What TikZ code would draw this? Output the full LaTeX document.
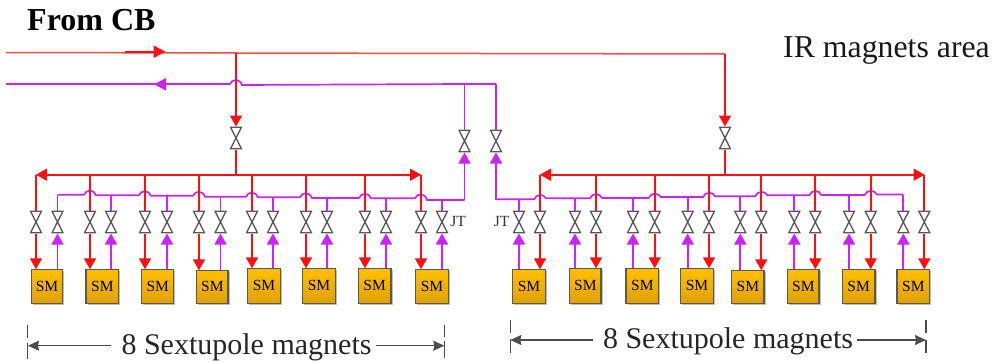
\documentclass[tikz,border=0pt]{standalone}
\usepackage{fontspec}
\setmainfont{Liberation Serif}
\usetikzlibrary{arrows.meta,shadows}
\definecolor{rd}{HTML}{FF0F0F}
\definecolor{trunkrd}{HTML}{FF4A4A}
\definecolor{pu}{HTML}{CC22FF}
\definecolor{gy}{HTML}{595959}
\definecolor{dimc}{HTML}{4D4D4D}
\definecolor{FFC000col}{HTML}{FFC000}
\definecolor{E0A000col}{HTML}{E0A000}
\tikzset{
  redline/.style={draw=rd,line width=1.7pt},
  purpline/.style={draw=pu,line width=1.7pt},
  redarrow/.style={redline,-{Stealth[length=11pt,width=12pt,inset=0pt]}},
  purparrow/.style={purpline,-{Stealth[length=11pt,width=12pt,inset=0pt]}},
  valve/.style={minimum width=12.5pt,minimum height=23pt,inner sep=0pt,outer sep=0pt,
    path picture={\draw[gy,line width=1.35pt,line join=miter]
      ([shift={(.8pt,.8pt)}]path picture bounding box.south west) --
      ([shift={(-.8pt,.8pt)}]path picture bounding box.south east) --
      ([shift={(.8pt,-.8pt)}]path picture bounding box.north west) --
      ([shift={(-.8pt,-.8pt)}]path picture bounding box.north east) -- cycle;}},
  smbox/.style={draw=gy,line width=1.3pt,top color=FFC000col,bottom color=E0A000col,
    inner sep=0pt,outer sep=0pt,font=\fontsize{15.5}{16}\selectfont,
    drop shadow={shadow xshift=1.5pt,shadow yshift=-1.5pt,opacity=.25,fill=black}},
  dimarrow/.style={draw=dimc,line width=1.1pt,-{Stealth[length=11pt,width=10pt,inset=1pt]}},
  tick/.style={draw=dimc,line width=1.1pt},
  biglabel/.style={inner sep=0pt,anchor=base,font=\fontsize{30}{32}\selectfont,text=black!85},
  jtlabel/.style={inner sep=0pt,font=\fontsize{15.5}{16}\selectfont,text=black!80}
}
\newcommand\hop[3]{-- (#1-6,#2) .. controls (#1-4,#2-5.5) and (#1+4,#2-5.5) .. (#1+6,#3)}
\begin{document}
\begin{tikzpicture}[x=1pt,y=-1pt]
\useasboundingbox (0,0) rectangle (992,361);
% labels
\node[inner sep=0pt,anchor=base west,font=\bfseries\fontsize{32}{33}\selectfont] (from) at (27,31) {From CB};
\node[inner sep=0pt,anchor=base west,font=\fontsize{31.8}{33}\selectfont,text=black!90] (ir) at (783,57) {IR magnets area};
% free ends
\coordinate (rs) at (6,52.5);
\coordinate (rj) at (236,53);
\coordinate (re) at (725,54);
\coordinate (ps) at (6,84);
\coordinate (pe) at (496,84);
\coordinate (pb) at (464.5,84);
\coordinate (hl) at (36,174.7);
\coordinate (hlj) at (236,174.7);
\coordinate (hlr) at (421,174.7);
\coordinate (hrl) at (540,174.7);
\coordinate (hrj) at (725,174.7);
\coordinate (hrr) at (924.5,174.7);
% main valves
\node[valve] (vl) at (236,138) {};
\node[valve] (vr) at (725,138) {};
\node[valve] (vpl) at (464.5,141) {};
\node[valve] (vpr) at (496,141) {};
% trunks
\draw[draw=trunkrd,line width=1.5pt] (rs) -- (rj) -- (re);
\draw[draw=rd,line width=2pt,-{Stealth[length=12pt,width=12pt,inset=0pt]}] (125,51.7) -- (165.5,51.7);
\draw[purpline] (ps) -- (230,84) \hop{236}{84}{85} -- (pb) -- (pe);
\draw[draw=pu,line width=2pt,-{Stealth[length=12pt,width=12pt,inset=0pt]}] (205,84.3) -- (154,84.3);
\draw[redarrow] (rj) -- (vl.north);
\draw[redarrow] (re) -- (vr.north);
\draw[redline] (vl.south) -- (hlj);
\draw[redline] (vr.south) -- (hrj);
\fill[rd] (hlj) circle (1.7pt);
\fill[rd] (hrj) circle (1.7pt);
\draw[redarrow] (hlj) -- (hl);
\draw[redarrow] (hlj) -- (hlr);
\draw[redarrow] (hrj) -- (hrl);
\draw[redarrow] (hrj) -- (hrr);
% purple collectors
\coordinate (cla) at (57.5,194.7);
\coordinate (clb) at (464.5,200);
\coordinate (cra) at (495,199.3);
\coordinate (crb) at (903.3,194.5);
\draw[purpline] (cla) \hop{90}{194.7}{195.3} \hop{145}{195.3}{195.8} \hop{199}{195.8}{196.7}
  \hop{252}{196.7}{197.3} \hop{306}{197.3}{198} \hop{365}{198}{198.3} \hop{421}{198.3}{200} -- (clb);
\draw[purpline] (cra) \hop{540}{199.3}{198.3} \hop{596}{198.3}{198} \hop{654.7}{198}{197}
  \hop{709}{197}{196.2} \hop{761.3}{196.2}{195.2} \hop{815.3}{195.2}{195} \hop{870.7}{195}{194.5} -- (crb);
\draw[purparrow] (clb) -- (vpl.south);
\draw[purpline] (pb) -- (vpl.north);
\draw[purpline] (pe) -- (vpr.north);
\draw[purparrow] (cra) -| (vpr.south);
% sextupole magnets with their valves
\foreach \n/\bl/\br/\bt/\xr/\xp/\yp in {
  1/31.3/62.7/269.3/36/57.5/194.7,
  2/86/118.7/269.3/90/111/195.3,
  3/141.7/173.7/269.3/145/167/195.8,
  4/196.7/228/270.3/199/220.5/196.7,
  5/247.7/280.3/268.3/252/273/197.3,
  6/302.3/335.7/268.3/306/327/198,
  7/358.3/391/268.3/365/386/198.3,
  8/415.7/448.3/269.3/421/442/200,
  9/512.7/545.3/269.3/540/519/199.3,
  10/569.7/601/268.3/596/575/198.3,
  11/626/658.7/268.3/654.7/633/198,
  12/680.7/713.3/268.3/709/687.7/197,
  13/731.7/764/270.3/761.3/740.3/196.2,
  14/787.7/819/269.3/815.3/794.3/195.2,
  15/842.3/875/269.3/870.7/849/195,
  16/897/929.7/269.3/924.3/903.3/194.5}{
  \node[smbox,minimum width={(\br-\bl)*1pt},minimum height={(303.5-\bt)*1pt}] (sm\n) at ({(\bl+\br)/2},{(\bt+303.5)/2}) {SM};
  \node[valve] (r\n) at (\xr,222) {};
  \node[valve] (p\n) at (\xp,222) {};
  \coordinate (rt\n) at (\xr,174.7);
  \coordinate (pt\n) at (\xp,\yp);
  \coordinate (rb\n) at (r\n.south |- sm\n.north);
  \coordinate (pb\n) at (p\n.south |- sm\n.north);
  \draw[redline] (rt\n) -- (r\n.north);
  \draw[redarrow] (r\n.south) -- (rb\n);
  \draw[purpline] (pt\n) -- (p\n.north);
  \draw[purparrow] (pb\n) -- (p\n.south);
}
\node[jtlabel] (jta) at (458,221.5) {JT};
\node[jtlabel] (jtb) at (501.5,221.5) {JT};
% dimension lines
\coordinate (d1a) at (28,345.7);
\coordinate (d1b) at (444.3,345.7);
\coordinate (d2a) at (510.3,340);
\coordinate (d2b) at (926,340);
\node[biglabel] (t1) at (246.5,354) {8 Sextupole magnets};
\node[biglabel] (t2) at (728,348) {8 Sextupole magnets};
\draw[dimarrow] (111,345.7) -- (d1a);
\draw[dimarrow] (375.7,345.7) -- (d1b);
\draw[dimarrow] (593,340) -- (d2a);
\draw[dimarrow] (856.7,340) -- (d2b);
\draw[tick] (27.7,325) -- (27.7,338) (27.7,343) -- (27.7,359);
\draw[tick] (444.3,325) -- (444.3,337) (444.3,341) -- (444.3,358);
\draw[tick] (510.3,320) -- (510.3,333) (510.3,339) -- (510.3,353);
\draw[tick] (926,320) -- (926,333) (926,340) -- (926,353);
\end{tikzpicture}
\end{document}
